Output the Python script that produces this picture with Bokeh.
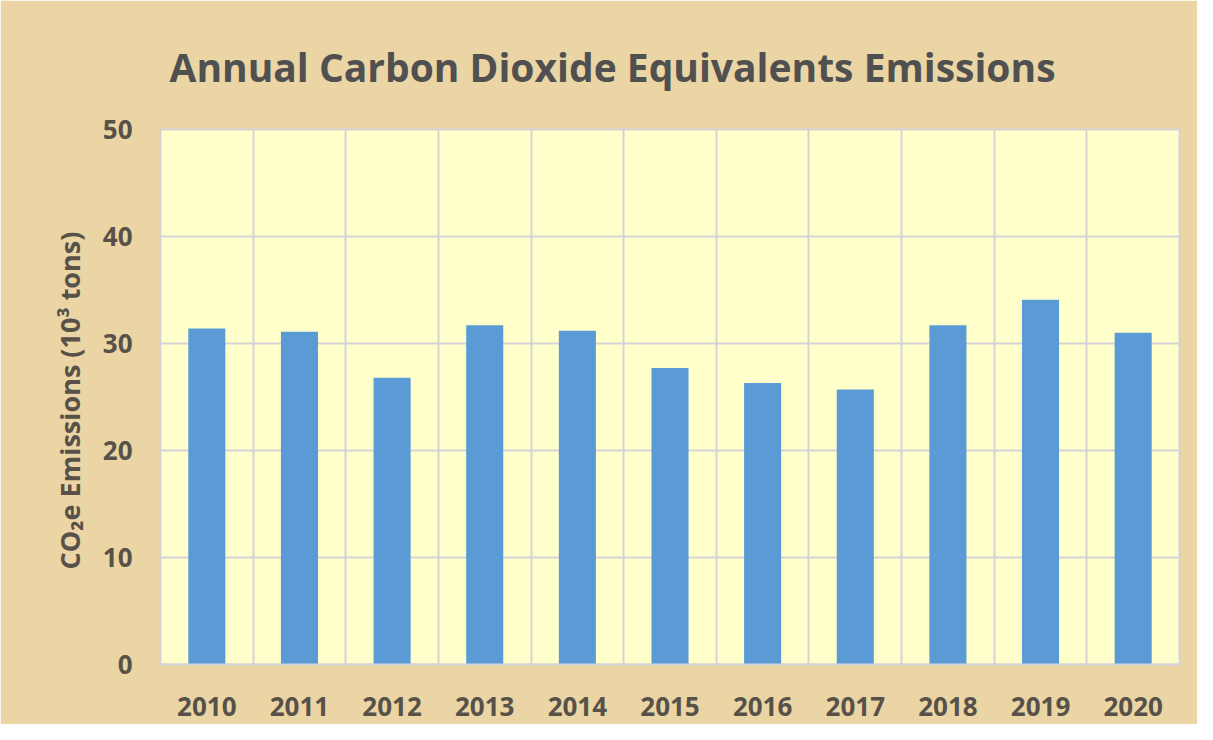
from bokeh.plotting import figure
from bokeh.models import Range1d, FixedTicker, ColumnDataSource
from bokeh.embed import file_html
from bokeh.resources import INLINE

years = ["2010", "2011", "2012", "2013", "2014", "2015", "2016", "2017", "2018", "2019", "2020"]
emissions = [31.4, 31.1, 26.8, 31.7, 31.2, 27.7, 26.3, 25.7, 31.7, 34.1, 31.0]
y_ticks = [0, 10, 20, 30, 40, 50]

centers = [i + 0.5 for i in range(len(years))]
src = ColumnDataSource(dict(x=centers, top=emissions, year=years))

FONT = "Open Sans"
TXT = "#57514a"

p = figure(width=1197, height=724, output_backend="svg", toolbar_location=None,
           x_range=Range1d(0, len(years)), y_range=Range1d(0, 50),
           min_border_left=160, min_border_right=18, min_border_top=129, min_border_bottom=60,
           background_fill_color="#FFFFCC", border_fill_color="#EBD5A4",
           title="Annual Carbon Dioxide Equivalents Emissions")

p.title.text_font = FONT
p.title.text_font_size = "39px"
p.title.text_font_style = "bold"
p.title.text_color = "#505050"
p.title.offset = 9
p.title.standoff = 74

p.vbar(x="x", top="top", width=0.4, bottom=0, source=src, fill_color="#5B9BD5", line_color=None)

p.outline_line_color = "#d6d3d6"
p.outline_line_width = 2

p.xaxis.ticker = FixedTicker(ticks=centers)
p.xaxis.major_label_overrides = {c: y for c, y in zip(centers, years)}
p.xgrid.ticker = FixedTicker(ticks=list(range(len(years) + 1)))
p.yaxis.ticker = FixedTicker(ticks=y_ticks)

for g in (p.xgrid, p.ygrid):
    g.grid_line_color = "#d6d3d6"
    g.grid_line_width = 2

for ax in (p.xaxis, p.yaxis):
    ax.major_tick_line_color = None
    ax.minor_tick_line_color = None
    ax.major_label_text_font = FONT
    ax.major_label_text_font_style = "bold"
    ax.major_label_text_font_size = "26px"
    ax.major_label_text_color = TXT

p.xaxis.axis_line_color = "#d6d3d6"
p.xaxis.axis_line_width = 2
p.xaxis.major_label_standoff = 26
p.yaxis.axis_line_color = None
p.yaxis.major_label_standoff = 22

p.yaxis.axis_label = "CO\u2082e Emissions  (10\u00b3 tons)"
p.yaxis.axis_label_text_font = FONT
p.yaxis.axis_label_text_font_style = "bold"
p.yaxis.axis_label_text_font_size = "27px"
p.yaxis.axis_label_text_color = TXT
p.yaxis.axis_label_standoff = 12

open("out.html", "w").write(file_html(p, INLINE))
